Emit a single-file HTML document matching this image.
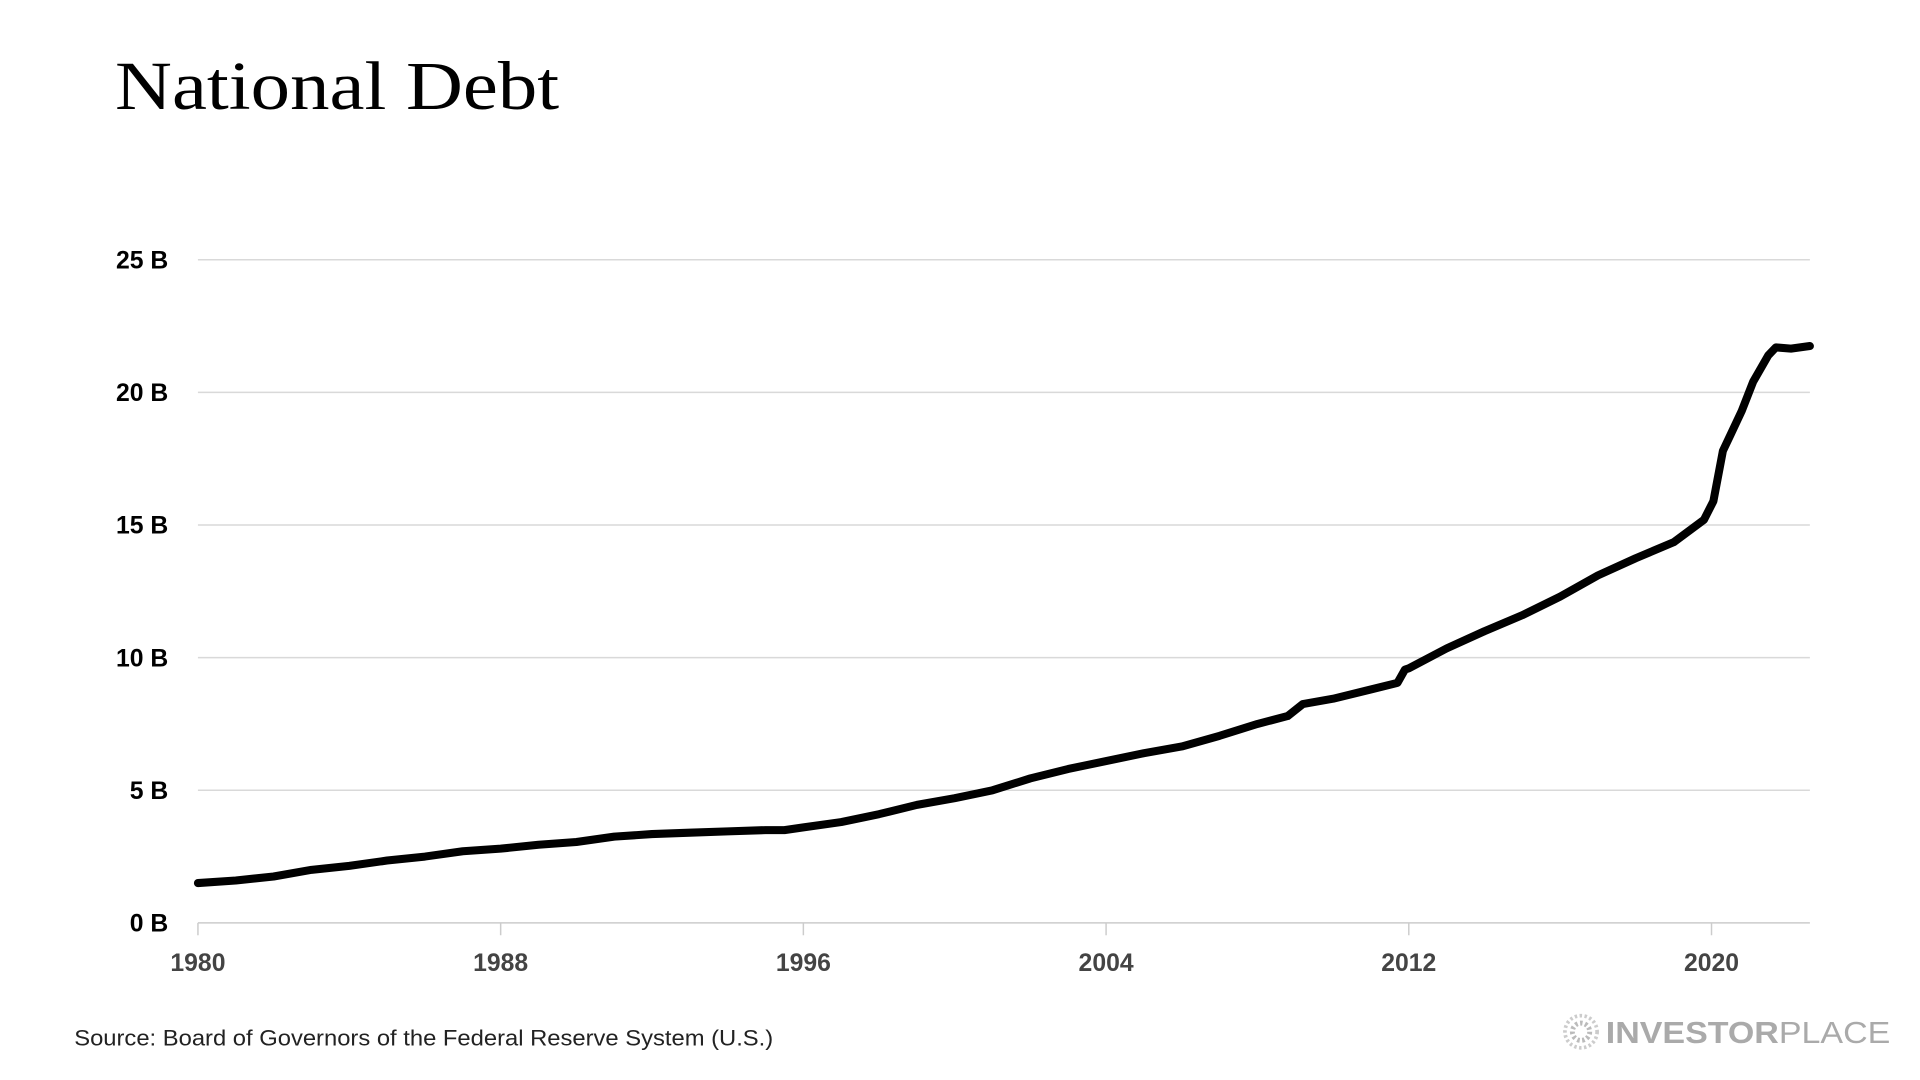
<!DOCTYPE html>
<html><head><meta charset="utf-8"><style>
html,body{margin:0;padding:0;background:#fff;width:1920px;height:1080px;overflow:hidden}
svg{display:block}
</style></head><body>
<svg id="chart" width="1920" height="1080" viewBox="0 0 1552 873" xmlns="http://www.w3.org/2000/svg">
<text x="93" y="88" font-family="Liberation Serif, serif" font-size="56" textLength="359" lengthAdjust="spacingAndGlyphs" fill="#000">National Debt</text>
<g id="grid"></g>
<g id="yaxis"></g>
<g id="xaxis"></g>
<path id="line" fill="none" stroke="#000" stroke-width="6.5" stroke-linejoin="round" stroke-linecap="round"/>
<text x="60" y="845" font-family="Liberation Sans, sans-serif" font-size="18" textLength="565" lengthAdjust="spacingAndGlyphs" fill="#222">Source:  Board of Governors of the Federal Reserve System (U.S.)</text>
<g>
<circle cx="1278" cy="834" r="13" fill="none" stroke="#ccc" stroke-width="3" stroke-dasharray="2 2"/>
<circle cx="1278" cy="834" r="7" fill="none" stroke="#bbb" stroke-width="4" stroke-dasharray="2 2"/>
<text x="1298" y="843" font-family="Liberation Sans, sans-serif" font-size="25" fill="#aaa" textLength="230" lengthAdjust="spacingAndGlyphs"><tspan font-weight="bold">INVESTOR</tspan>PLACE</text>
</g>
</svg>
<script>
const years=[1980,1981,1982,1983,1984,1985,1986,1987,1988,1989,1990,1991,1992,1993,1994,1995,1995.5,1996,1997,1998,1999,2000,2001,2002,2003,2004,2005,2006,2007,2008,2008.8,2009.2,2010,2011,2011.7,2011.9,2012,2013,2014,2015,2016,2017,2018,2019,2019.8,2020.05,2020.3,2020.5,2020.8,2021.1,2021.5,2021.7,2022.1,2022.6];
const debt=[1.5,1.6,1.75,2.0,2.15,2.35,2.5,2.7,2.8,2.95,3.05,3.25,3.35,3.4,3.45,3.5,3.5,3.6,3.8,4.1,4.45,4.7,5.0,5.45,5.8,6.1,6.4,6.65,7.05,7.5,7.8,8.25,8.45,8.8,9.05,9.55,9.6,10.35,11.0,11.6,12.3,13.1,13.75,14.35,15.2,15.9,17.8,18.4,19.3,20.4,21.4,21.7,21.65,21.75];
const yTicks=[0,5,10,15,20,25];
const yTickLabels=["0 B","5 B","10 B","15 B","20 B","25 B"];
const xTicks=[1980,1988,1996,2004,2012,2020];
const NS="http://www.w3.org/2000/svg";
const x0=160,x1=1463,yr0=1980,yr1=2022.6,yb=746,yt=210,vmax=25;
const xs=v=>x0+(v-yr0)/(yr1-yr0)*(x1-x0);
const ys=v=>yb-(v/vmax)*(yb-yt);
const grid=document.getElementById('grid'),ya=document.getElementById('yaxis'),xa=document.getElementById('xaxis');
yTicks.forEach((t,i)=>{
  const l=document.createElementNS(NS,'line');
  
  
  l.setAttribute('x1',x0);l.setAttribute('x2',x1);l.setAttribute('y1',ys(t));l.setAttribute('y2',ys(t));
  l.setAttribute('stroke',t===0?'#ccc':'#d9d9d9');l.setAttribute('stroke-width','1.2');
  grid.appendChild(l);
  const tx=document.createElementNS(NS,'text');
  
  
  tx.setAttribute('x',136);tx.setAttribute('y',ys(t)+7);tx.setAttribute('text-anchor','end');
  tx.setAttribute('font-family','Liberation Sans, sans-serif');tx.setAttribute('font-weight','bold');tx.setAttribute('font-size','20');
  tx.textContent=yTickLabels[i];ya.appendChild(tx);
});
xTicks.forEach(t=>{
  const l=document.createElementNS(NS,'line');
  
  
  l.setAttribute('x1',xs(t));l.setAttribute('x2',xs(t));l.setAttribute('y1',yb);l.setAttribute('y2',yb+10);
  l.setAttribute('stroke','#ccc');l.setAttribute('stroke-width','1.2');xa.appendChild(l);
  const tx=document.createElementNS(NS,'text');
  
  
  tx.setAttribute('x',xs(t));tx.setAttribute('y',785);tx.setAttribute('text-anchor','middle');
  tx.setAttribute('font-family','Liberation Sans, sans-serif');tx.setAttribute('font-weight','bold');tx.setAttribute('font-size','20');
  tx.setAttribute('fill','#444');tx.textContent=t;xa.appendChild(tx);
});
document.getElementById('line').setAttribute('d',years.map((y,i)=>(i?'L':'M')+xs(y).toFixed(1)+','+ys(debt[i]).toFixed(1)).join(''));
</script>
</body></html>
